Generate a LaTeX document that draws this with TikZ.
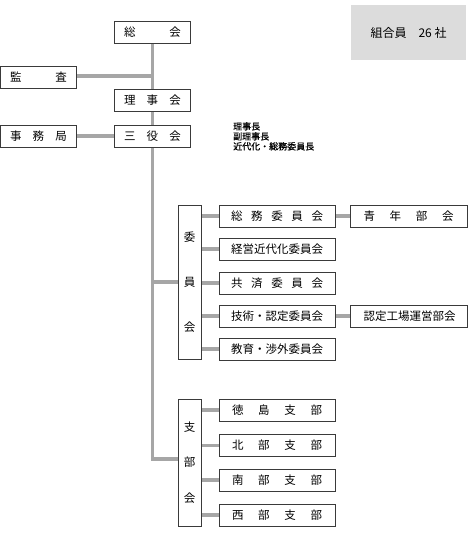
\documentclass[tikz,border=0pt]{standalone}
\usepackage{fontspec}
\setmainfont{Noto Sans CJK JP}
\usetikzlibrary{backgrounds}
\definecolor{linegray}{HTML}{A6A6A6}
\definecolor{boxline}{HTML}{3A3A3A}
\definecolor{notefill}{HTML}{DCDCDC}
\newcommand{\spr}[2]{\makebox[#1pt][s]{#2}}
\begin{document}
\begin{tikzpicture}[x=1pt,y=-1pt,
  box/.style={draw=boxline,line width=0.9pt,fill=white,inner sep=0pt,
    font=\fontsize{11.5}{12}\selectfont},
  topbox/.style={box,minimum width=76pt,minimum height=22pt},
  combox/.style={box,minimum width=116pt,minimum height=22pt},
  rbox/.style={box,minimum width=117pt,minimum height=22pt},
  tallbox/.style={box,minimum width=23pt,align=center},
  conn/.style={draw=linegray,line width=3.5pt,line join=miter}]
\useasboundingbox (0,0) rectangle (468,533);
% nodes
\node[fill=notefill,minimum width=115pt,minimum height=55pt,inner sep=0pt,
  font=\fontsize{12}{13}\selectfont] (note) at (408.5,32.5) {組合員　26 社};
\node[topbox] (soukai) at (152.5,32) {\spr{57}{総\hfill 会}};
\node[topbox] (kansa) at (38.5,77) {\spr{57}{監\hfill 査}};
\node[topbox] (rijikai) at (152.5,100) {\spr{57}{理\hfill 事\hfill 会}};
\node[topbox] (jimukyoku) at (38.5,136) {\spr{57}{事\hfill 務\hfill 局}};
\node[topbox] (sanyaku) at (152.5,136) {\spr{57}{三\hfill 役\hfill 会}};
\node[anchor=north west,align=left,inner sep=0pt,
  font=\fontsize{9}{10}\selectfont\addfontfeatures{FakeBold=0.6}] (yaku) at (233,122) {理事長\\副理事長\\近代化・総務委員長};
\node[tallbox,minimum height=154pt,font=\fontsize{11.5}{45}\selectfont] (iinkai) at (189.5,282) {委\\員\\会};
\node[combox] (c1) at (277,216) {\spr{92}{総\hfill 務\hfill 委\hfill 員\hfill 会}};
\node[combox] (c2) at (277,249) {\spr{92}{経営近代化委員会}};
\node[combox] (c3) at (277,283) {\spr{92}{共\hfill 済\hfill 委\hfill 員\hfill 会}};
\node[combox] (c4) at (277,316) {\spr{92}{技術・認定委員会}};
\node[combox] (c5) at (277,349) {\spr{92}{教育・渉外委員会}};
\node[rbox] (seinen) at (408.5,216) {\spr{90}{青\hfill 年\hfill 部\hfill 会}};
\node[rbox] (nintei) at (408.5,316) {\spr{90}{認定工場運営部会}};
\node[tallbox,minimum height=127pt,font=\fontsize{11.5}{35.5}\selectfont] (shibukai) at (189.5,462.5) {支\\部\\会};
\node[combox] (b1) at (277,410) {\spr{90}{徳\hfill 島\hfill 支\hfill 部}};
\node[combox] (b2) at (277,445.5) {\spr{90}{北\hfill 部\hfill 支\hfill 部}};
\node[combox] (b3) at (277,480) {\spr{90}{南\hfill 部\hfill 支\hfill 部}};
\node[combox] (b4) at (277,515) {\spr{90}{西\hfill 部\hfill 支\hfill 部}};
\coordinate (vb) at (152.5,459);
\coordinate (vi) at (152.5,282);
% connectors (behind)
\begin{scope}[on background layer]
\draw[conn] (soukai.south) -- (vb) -- (shibukai.west |- vb);
\draw[conn] (kansa.east |- 0,76) -- (soukai.south |- 0,76);
\draw[conn] (jimukyoku.east) -- (sanyaku.west);
\draw[conn] (vi) -- (iinkai.west);
\foreach \n in {c1,c2,c3,c4,c5}{\draw[conn] (iinkai.east |- \n) -- (\n.west);}
\draw[conn] (c1.east) -- (seinen.west);
\draw[conn] (c4.east) -- (nintei.west);
\foreach \n in {b1,b2,b3,b4}{\draw[conn] (shibukai.east |- \n) -- (\n.west);}
\end{scope}
\end{tikzpicture}
\end{document}
